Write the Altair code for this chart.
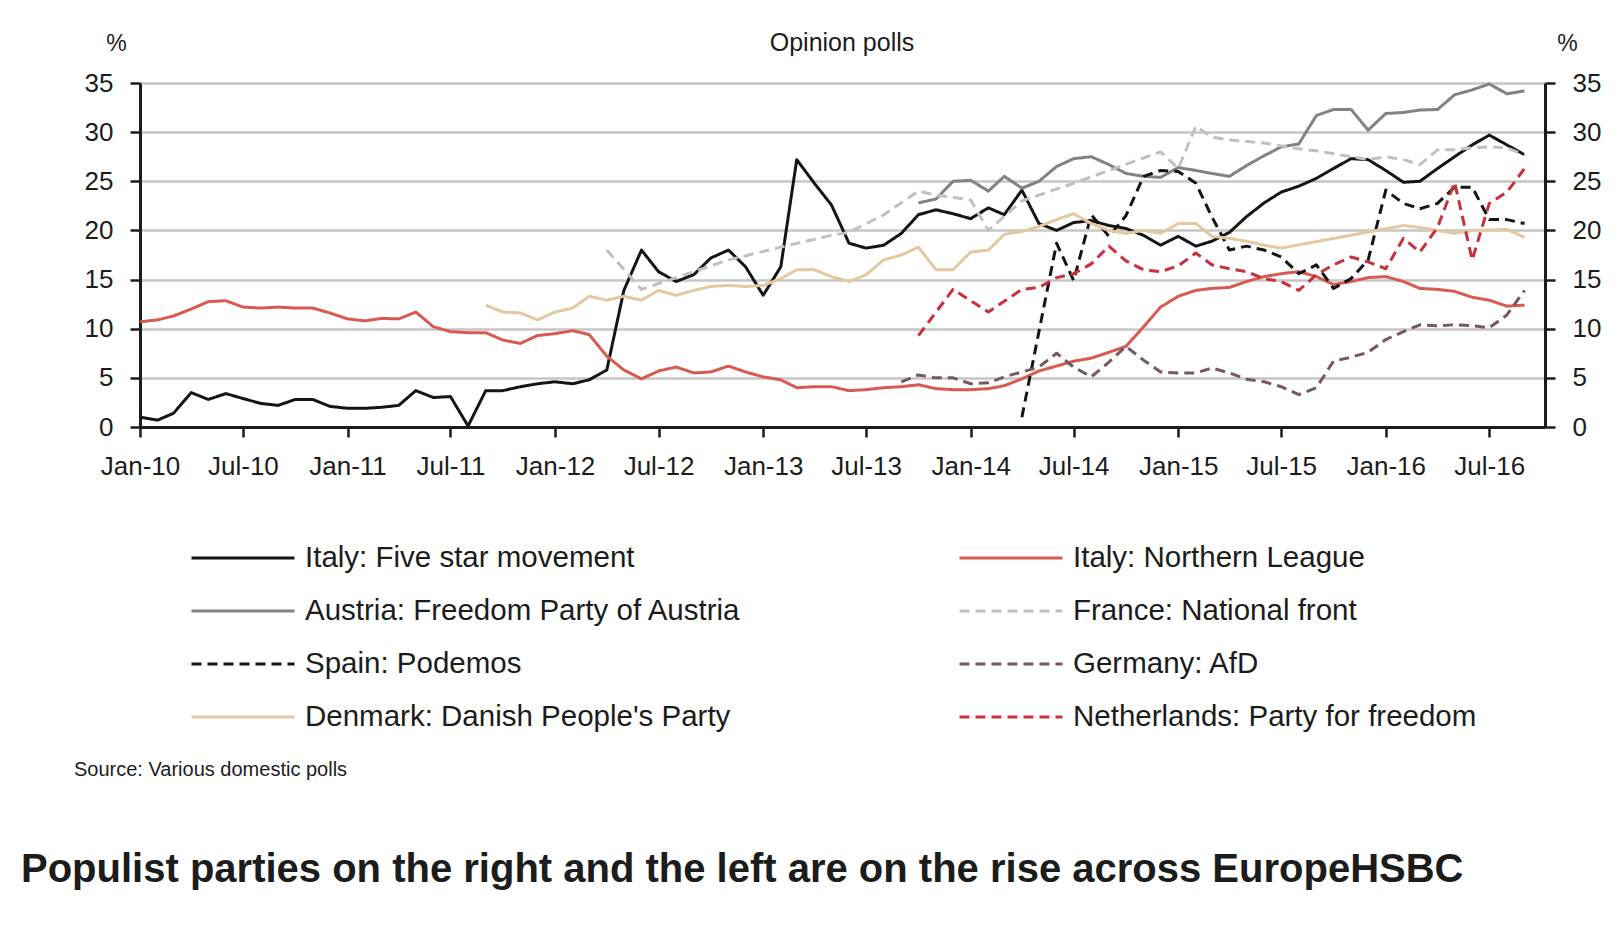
import altair as alt
import pandas as pd

# ---------------------------------------------------------------------------
# Opinion poll shares (%) for European populist parties, 2010-2016
# ---------------------------------------------------------------------------
# Legend entries fill column by column: first column, then second column.
series_names = [
    "Italy: Five star movement",
    "Austria: Freedom Party of Austria",
    "Spain: Podemos",
    "Denmark: Danish People's Party",
    "Italy: Northern League",
    "France: National front",
    "Germany: AfD",
    "Netherlands: Party for freedom",
]

# Italy: Five star movement, monthly from Jan-2010
five_star_start = "2010-01"
five_star = [
    1.0, 0.7, 1.4, 3.5, 2.8, 3.4, 2.9, 2.4, 2.2, 2.8,
    2.8, 2.1, 1.9, 1.9, 2.0, 2.2, 3.7, 3.0, 3.1, 0.1,
    3.7, 3.7, 4.1, 4.4, 4.6, 4.4, 4.8, 5.8, 13.9, 18.0,
    15.8, 14.8, 15.5, 17.2, 18.0, 16.3, 13.4, 16.3, 27.2, 24.8,
    22.6, 18.7, 18.2, 18.5, 19.7, 21.6, 22.1, 21.7, 21.2, 22.3,
    21.6, 24.1, 20.7, 20.0, 20.8, 21.0, 20.5, 20.2, 19.5, 18.5,
    19.4, 18.4, 18.9, 19.8, 21.4, 22.8, 23.9, 24.5, 25.3, 26.3,
    27.3, 27.2, 26.1, 24.9, 25.0, 26.3, 27.5, 28.7, 29.7, 28.7,
    27.7,
]

# Italy: Northern League, monthly from Jan-2010
northern_league_start = "2010-01"
northern_league = [
    10.7, 10.9, 11.3, 12.0, 12.75, 12.85, 12.2, 12.1, 12.2, 12.1,
    12.1, 11.6, 11.0, 10.8, 11.05, 11.0, 11.7, 10.2, 9.7, 9.6,
    9.6, 8.85, 8.5, 9.3, 9.5, 9.8, 9.4, 7.2, 5.8, 4.9,
    5.7, 6.1, 5.5, 5.6, 6.2, 5.6, 5.1, 4.8, 4.0, 4.1,
    4.1, 3.7, 3.8, 4.0, 4.1, 4.3, 3.9, 3.8, 3.8, 3.9,
    4.2, 4.9, 5.7, 6.2, 6.7, 7.0, 7.6, 8.2, 10.2, 12.2,
    13.3, 13.9, 14.1, 14.2, 14.8, 15.3, 15.6, 15.8, 15.3, 14.5,
    14.8, 15.2, 15.3, 14.8, 14.1, 14.0, 13.8, 13.2, 12.9, 12.3,
    12.4,
]

# Austria: Freedom Party, monthly from Oct-2013
austria_start = "2013-10"
austria = [
    22.8, 23.2, 25.0, 25.1, 24.0, 25.5, 24.3, 25.0, 26.5, 27.3,
    27.5, 26.7, 25.8, 25.5, 25.4, 26.4, 26.1, 25.8, 25.5, 26.6,
    27.6, 28.5, 28.8, 31.7, 32.3, 32.3, 30.2, 31.9, 32.0, 32.25,
    32.3, 33.8, 34.3, 34.9, 33.9, 34.2,
]

# France: National front (irregular poll dates)
france_months = [
    "2012-04", "2012-06", "2012-11", "2013-02", "2013-05", "2013-06",
    "2013-08", "2013-10", "2013-11", "2014-01", "2014-02", "2014-04",
    "2014-07", "2014-09", "2014-12", "2015-01", "2015-02", "2015-03",
    "2015-04", "2015-06", "2015-08", "2015-09", "2015-11", "2015-12",
    "2016-01", "2016-02", "2016-03", "2016-04", "2016-05", "2016-06",
    "2016-07", "2016-08", "2016-09",
]
france = [
    18.0, 14.0, 17.0, 18.3, 19.5, 19.8,
    21.6, 24.0, 23.6, 23.1, 20.0, 23.0,
    24.8, 26.1, 28.0, 26.3, 30.6, 29.5,
    29.2, 28.9, 28.3, 28.1, 27.5, 27.2,
    27.5, 27.2, 26.7, 28.2, 28.2, 28.4,
    28.5, 28.4, 27.7,
]

# Spain: Podemos
podemos_months = [
    "2014-04", "2014-06", "2014-07", "2014-08", "2014-09", "2014-10",
    "2014-11", "2014-12", "2015-01", "2015-02", "2015-03", "2015-04",
    "2015-05", "2015-06", "2015-07", "2015-08", "2015-09", "2015-10",
    "2015-11", "2015-12", "2016-01", "2016-02", "2016-03", "2016-04",
    "2016-05", "2016-06", "2016-07", "2016-08", "2016-09",
]
podemos = [
    1.0, 18.7, 14.9, 21.6, 19.4, 21.5,
    25.5, 26.1, 26.0, 24.8, 21.4, 18.0,
    18.4, 18.0, 17.3, 15.6, 16.5, 14.1,
    15.1, 17.0, 24.1, 22.75, 22.2, 22.75,
    24.4, 24.4, 21.1, 21.1, 20.7,
]

# Germany: AfD, monthly from Sep-2013
afd_start = "2013-09"
afd = [
    4.6, 5.3, 5.0, 5.0, 4.4, 4.5, 5.1, 5.6, 6.1, 7.5,
    6.1, 5.1, 6.6, 8.2, 6.8, 5.6, 5.5, 5.5, 6.0, 5.5,
    4.85, 4.6, 4.1, 3.3, 4.0, 6.7, 7.1, 7.6, 8.9, 9.7,
    10.4, 10.3, 10.4, 10.3, 10.1, 11.4, 13.9,
]

# Denmark: Danish People's Party, monthly Sep-2011 .. Jul-2015, then sparser
denmark_start = "2011-09"
denmark_monthly = [
    12.4, 11.7, 11.6, 10.9, 11.7, 12.1, 13.3, 12.9, 13.3, 12.9,
    13.9, 13.4, 13.9, 14.3, 14.4, 14.3, 14.4, 15.1, 16.0, 16.0,
    15.3, 14.8, 15.5, 17.0, 17.5, 18.3, 16.0, 16.0, 17.8, 18.0,
    19.6, 19.9, 20.4, 21.1, 21.7, 20.7, 20.0, 19.7, 20.0, 19.7,
    20.7, 20.7, 19.4, 19.2, 18.9, 18.5, 18.2,
]
denmark_late_months = ["2016-02", "2016-03", "2016-05", "2016-06", "2016-08", "2016-09"]
denmark_late = [20.5, 20.3, 19.7, 20.0, 20.1, 19.3]

# Netherlands: Party for freedom
pvv_months = [
    "2013-10", "2013-12", "2014-02", "2014-04", "2014-05", "2014-06",
    "2014-07", "2014-08", "2014-09", "2014-10", "2014-11", "2014-12",
    "2015-01", "2015-02", "2015-03", "2015-04", "2015-05", "2015-06",
    "2015-07", "2015-08", "2015-09", "2015-10", "2015-11", "2015-12",
    "2016-01", "2016-02", "2016-03", "2016-04", "2016-05", "2016-06",
    "2016-07", "2016-08", "2016-09",
]
pvv = [
    9.3, 14.0, 11.7, 14.0, 14.2, 15.2,
    15.6, 16.6, 18.4, 16.9, 16.0, 15.8,
    16.4, 17.7, 16.5, 16.1, 15.8, 15.1,
    14.8, 13.9, 15.5, 16.5, 17.3, 16.8,
    16.1, 19.2, 17.8, 20.3, 24.9, 17.0,
    22.75, 23.9, 26.3,
]

# Axis tick dates and text
x_tick_months = [
    "2010-01", "2010-07", "2011-01", "2011-07", "2012-01", "2012-07", "2013-01",
    "2013-07", "2014-01", "2014-07", "2015-01", "2015-07", "2016-01", "2016-07",
]
y_ticks = [0, 5, 10, 15, 20, 25, 30, 35]
heading_text = "Opinion polls"
source_text = "Source: Various domestic polls"
caption_text = "Populist parties on the right and the left are on the rise across EuropeHSBC"

# ---------------------------------------------------------------------------
# Styling (same order as series_names)
# ---------------------------------------------------------------------------
series_colors = ["#151515", "#828282", "#151515", "#e3c8a0",
                 "#d95a52", "#bfc0c6", "#75595e", "#c9303e"]
series_dashes = [[1, 0], [1, 0], [10, 6], [1, 0],
                 [1, 0], [10, 6], [10, 6], [10, 6]]
FONT = "Liberation Sans, Arial, Helvetica, sans-serif"
INK = "#1c1c1c"


def monthly(start, n):
    return pd.date_range(start, periods=n, freq="MS").strftime("%Y-%m-%dT00:00:00").tolist()


def stamp(months):
    return [f"{m}-01T00:00:00" for m in months]


def to_dt(month):
    y, m = month.split("-")
    return alt.DateTime(year=int(y), month=int(m), date=1)


series_data = [
    ("Italy: Five star movement", monthly(five_star_start, len(five_star)), five_star),
    ("Italy: Northern League", monthly(northern_league_start, len(northern_league)), northern_league),
    ("Austria: Freedom Party of Austria", monthly(austria_start, len(austria)), austria),
    ("France: National front", stamp(france_months), france),
    ("Spain: Podemos", stamp(podemos_months), podemos),
    ("Germany: AfD", monthly(afd_start, len(afd)), afd),
    ("Denmark: Danish People's Party",
     monthly(denmark_start, len(denmark_monthly)) + stamp(denmark_late_months),
     denmark_monthly + denmark_late),
    ("Netherlands: Party for freedom", stamp(pvv_months), pvv),
]
df = pd.concat(
    [pd.DataFrame({"series": n, "date": d, "value": v}) for n, d, v in series_data],
    ignore_index=True,
)

# ---------------------------------------------------------------------------
# Encodings
# ---------------------------------------------------------------------------
x_enc = alt.X(
    "date:T",
    scale=alt.Scale(domain=[alt.DateTime(year=2010, month=1, date=1),
                            alt.DateTime(year=2016, month=10, date=7)]),
    axis=alt.Axis(
        values=[to_dt(m) for m in x_tick_months], format="%b-%y", title=None,
        grid=False, domainColor=INK, domainWidth=3, tickColor=INK, tickWidth=2.5,
        tickSize=10, labelFont=FONT, labelFontSize=26, labelColor=INK,
        labelPadding=16, labelFlush=False, labelOverlap=False,
    ),
)
y_scale = alt.Scale(domain=[0, 35], nice=False)
axis_common = dict(
    values=y_ticks, domainColor=INK, domainWidth=3, tickColor=INK, tickWidth=2.5,
    tickSize=10, labelFont=FONT, labelFontSize=26, labelColor=INK,
    labelFlush=False, labelOverlap=False, title="%", titleAngle=0,
    titleFont=FONT, titleFontSize=23, titleFontWeight="normal", titleColor=INK,
    titleAlign="center", titleBaseline="middle", titleY=-40,
)
left_axis = alt.Axis(orient="left", grid=True, gridColor="#c6c6c6", gridWidth=2.5,
                     labelPadding=17, titleX=-24, **axis_common)
right_axis = alt.Axis(orient="right", grid=False, labelPadding=17, titleX=22, **axis_common)

legend = alt.Legend(
    title=None, orient="none", legendX=50, legendY=460, columns=2,
    columnPadding=216, rowPadding=23, clipHeight=30, padding=0,
    symbolType="stroke", symbolSize=10609, symbolStrokeWidth=3,
    labelFont=FONT, labelFontSize=29.5, labelColor=INK, labelOffset=9,
    labelLimit=800,
)

lines = alt.Chart(df).mark_line(strokeWidth=3, strokeJoin="round").encode(
    x=x_enc,
    y=alt.Y("value:Q", scale=y_scale, axis=left_axis),
    color=alt.Color("series:N", scale=alt.Scale(domain=series_names, range=series_colors),
                    legend=legend),
    strokeDash=alt.StrokeDash("series:N", scale=alt.Scale(domain=series_names, range=series_dashes),
                              legend=legend),
)

right_side = alt.Chart(df).mark_line(opacity=0).encode(
    x=x_enc,
    y=alt.Y("value:Q", scale=y_scale, axis=right_axis),
    detail="series:N",
)

heading = alt.Chart(pd.DataFrame({"t": [heading_text]})).mark_text(
    font=FONT, fontSize=25, color=INK, align="center", baseline="middle",
).encode(text="t:N", x=alt.value(702), y=alt.value(-40))

source = alt.Chart(pd.DataFrame({"t": [source_text]})).mark_text(
    font=FONT, fontSize=20, color=INK, align="left", baseline="middle",
).encode(text="t:N", x=alt.value(-66), y=alt.value(687))

caption = alt.Chart(pd.DataFrame({"t": [caption_text]})).mark_text(
    font=FONT, fontSize=40, fontWeight="bold", color=INK, align="left", baseline="middle",
).encode(text="t:N", x=alt.value(-119), y=alt.value(787))

chart = (
    alt.layer(right_side, lines, heading, source, caption)
    .resolve_axis(y="independent")
    .properties(
        width=1405, height=344,
        autosize=alt.AutoSizeParams(type="none"),
        padding={"left": 140, "top": 83, "right": 74, "bottom": 498},
        background="white",
    )
    .configure_view(stroke=None)
)

chart.save("out.html", embed_options={"renderer": "svg", "actions": False})
